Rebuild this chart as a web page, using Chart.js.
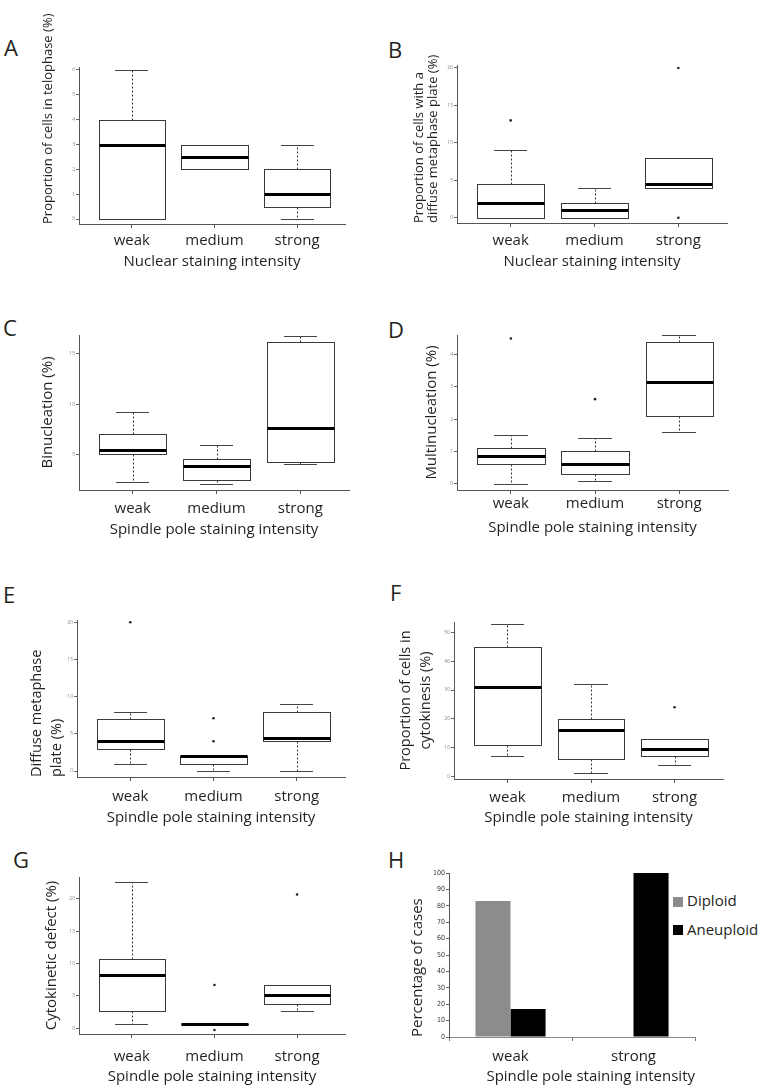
<!DOCTYPE html>
<html>
<head>
<meta charset="utf-8">
<script src="https://cdn.jsdelivr.net/npm/chart.js@4.4.1/dist/chart.umd.min.js"></script>
<style>
  body { margin: 0; background: #fff; }
  #fig { position: relative; width: 763px; height: 1090px; overflow: hidden; font-family: 'Open Sans', sans-serif; color: #231f20; }
  .letter { position: absolute; font-size: 22px; line-height: 22px; }
  .key { position: absolute; width: 10px; height: 10px; }
  .keytxt { position: absolute; font-size: 15px; line-height: 15px; white-space: nowrap; }
</style>
</head>
<body>
<div id="fig">
  <div class="letter" style="left:4px;top:36px">A</div>
  <div class="letter" style="left:388px;top:38px">B</div>
  <div class="letter" style="left:3px;top:316px">C</div>
  <div class="letter" style="left:388px;top:318px">D</div>
  <div class="letter" style="left:3px;top:583px">E</div>
  <div class="letter" style="left:390px;top:581px">F</div>
  <div class="letter" style="left:13px;top:848px">G</div>
  <div class="letter" style="left:388px;top:848px">H</div>
  <div id="legendH"></div>
</div>
<script>
// --- data ---
const categories = ['weak', 'medium', 'strong'];

// A: telophase (nuclear staining)
const telLow = [0, 2, 0];
const telQ1 = [0, 2, 0.5];
const telMed = [3, 2.5, 1];
const telQ3 = [4, 3, 2];
const telHigh = [6, 3, 3];
const telOut = [[], [], []];
const telTicks = [0, 1, 2, 3, 4, 5, 6];

// B: diffuse metaphase plate (nuclear staining)
const dmnLow = [0, 0, 4];
const dmnQ1 = [0, 0, 4];
const dmnMed = [2, 1, 4.5];
const dmnQ3 = [4.5, 2, 8];
const dmnHigh = [9, 4, 8];
const dmnOut = [[13], [], [20, 0]];
const dmnTicks = [0, 5, 10, 15, 20];

// C: binucleation
const binLow = [2.3, 2.1, 4.05];
const binQ1 = [5.1, 2.5, 4.3];
const binMed = [5.5, 3.9, 7.6];
const binQ3 = [7.0, 4.6, 16.2];
const binHigh = [9.2, 6.0, 16.8];
const binOut = [[], [], []];
const binTicks = [5, 10, 15];

// D: multinucleation
const mulLow = [0, 0.07, 1.6];
const mulQ1 = [0.6, 0.3, 2.1];
const mulMed = [0.85, 0.6, 3.15];
const mulQ3 = [1.1, 1.0, 4.4];
const mulHigh = [1.5, 1.4, 4.6];
const mulOut = [[4.5], [2.62], []];
const mulTicks = [0, 1, 2, 3, 4];

// E: diffuse metaphase plate (spindle pole staining)
const dmsLow = [1, 0, 0];
const dmsQ1 = [3, 1, 4];
const dmsMed = [4, 2, 4.5];
const dmsQ3 = [7, 2, 8];
const dmsHigh = [8, 2, 9];
const dmsOut = [[20], [7.1, 4], []];
const dmsTicks = [0, 5, 10, 15, 20];

// F: cytokinesis
const cytLow = [7, 1.2, 4];
const cytQ1 = [11, 6, 7];
const cytMed = [31, 16, 9.5];
const cytQ3 = [45, 20, 13];
const cytHigh = [53, 32, 13];
const cytOut = [[], [], [24]];
const cytTicks = [0, 10, 20, 30, 40, 50];

// G: cytokinetic defect
const cdLow = [0.67, 0.67, 2.7];
const cdQ1 = [2.7, 0.6, 3.7];
const cdMed = [8.2, 0.67, 5.2];
const cdQ3 = [10.65, 0.72, 6.65];
const cdHigh = [22.7, 0.67, 6.65];
const cdOut = [[], [6.7, -0.25], [20.7]];
const cdTicks = [0, 5, 10, 15, 20];

// H: ploidy
const ploidyCategories = ['weak', 'strong'];
const seriesNames = ['Diploid', 'Aneuploid'];
const diploid = [83, 0];
const aneuploid = [17, 100];
const pctTicks = [0, 10, 20, 30, 40, 50, 60, 70, 80, 90, 100];

// --- drawing ---
const INK = '#231f20';
const FONT = "'Open Sans', sans-serif";
const NARROW = "'Liberation Sans Narrow', 'DejaVu Sans Condensed', sans-serif";
Chart.defaults.font.family = FONT;
Chart.defaults.color = INK;

const TICK_LEN = 4;
const X_LINE = 18;

function addCanvas(box) {
    const c = document.createElement('canvas');
    c.width = box.w;
    c.height = box.h;
    c.style.cssText = `position:absolute;left:${box.x}px;top:${box.y}px;width:${box.w}px;height:${box.h}px`;
    document.getElementById('fig').appendChild(c);
    return c;
}

// puts the chart area at the given page coordinates
function layoutFor(p) {
    const yLeft = p.yTitleX - p.yLine / 2;
    return {
        padding: {
            left: yLeft - p.box.x,
            top: p.area.t - p.box.y,
            right: p.box.x + p.box.w - p.area.r,
            bottom: p.box.y + p.box.h - (p.titleY + X_LINE / 2)
        },
        yWidth: p.area.l - yLeft,
        xHeight: p.titleY + X_LINE / 2 - p.area.b,
        xTickPad: p.labelY - p.area.b - TICK_LEN - X_LINE / 2
    };
}

function boxStats(low, q1, med, q3, high) {
    return {
        id: 'boxStats',
        afterDatasetsDraw(chart) {
            const { ctx, scales: { x, y } } = chart;
            const px = v => Math.round(x.getPixelForValue(v));
            const py = v => Math.round(y.getPixelForValue(v)) + 0.5;
            ctx.save();
            med.forEach((m, i) => {
                const c = i + 1;
                const xc = px(c) + 0.5;
                const bl = px(c - 0.4) + 0.5, br = px(c + 0.4) + 0.5;
                const cl = px(c - 0.2), cr = px(c + 0.2);
                ctx.lineWidth = 1;
                ctx.strokeStyle = '#333';
                ctx.setLineDash([2, 2]);
                ctx.beginPath();
                ctx.moveTo(xc, py(q3[i])); ctx.lineTo(xc, py(high[i]));
                ctx.moveTo(xc, py(q1[i])); ctx.lineTo(xc, py(low[i]));
                ctx.stroke();
                ctx.setLineDash([]);
                ctx.strokeStyle = '#444';
                ctx.beginPath();
                ctx.moveTo(cl, py(high[i])); ctx.lineTo(cr, py(high[i]));
                ctx.moveTo(cl, py(low[i])); ctx.lineTo(cr, py(low[i]));
                ctx.stroke();
                const top = py(q3[i]), bot = py(q1[i]);
                ctx.fillStyle = '#fff';
                ctx.fillRect(bl, top, br - bl, bot - top);
                ctx.strokeStyle = '#3a3a3a';
                ctx.strokeRect(bl, top, br - bl, bot - top);
                ctx.lineWidth = 3;
                ctx.strokeStyle = '#000';
                ctx.beginPath();
                ctx.moveTo(bl, py(m)); ctx.lineTo(br, py(m));
                ctx.stroke();
            });
            ctx.restore();
        }
    };
}

function yAxis(p, L, ticks, tickFont) {
    return {
        type: 'linear',
        min: p.yMin,
        max: p.yMax,
        afterBuildTicks: s => { s.ticks = ticks.map(v => ({ value: v })); },
        afterFit: s => { s.width = L.yWidth; },
        ticks: { font: tickFont || { size: 5 }, color: '#8a8a8a', padding: 1 },
        grid: { drawOnChartArea: false, drawTicks: true, tickLength: 3, color: '#666' },
        border: { display: true, color: '#555', width: 1 },
        title: {
            display: true, text: p.yTitle, align: p.yAlign, color: INK, padding: 0,
            font: { size: p.yFont, lineHeight: p.yLine + 'px' }
        }
    };
}

function xTitle(p) {
    return {
        display: true, text: p.xTitle, align: p.xAlign || 'center', color: INK, padding: 0,
        font: { size: 15, lineHeight: X_LINE + 'px' }
    };
}

function boxChart(p, low, q1, med, q3, high, out, ticks) {
    const L = layoutFor(p);
    const points = out.flatMap((vals, i) => vals.map(v => ({ x: i + 1, y: v })));
    return new Chart(addCanvas(p.box), {
        type: 'scatter',
        data: {
            datasets: [{ data: points, pointRadius: 1.3, pointBackgroundColor: '#222', pointBorderWidth: 0 }]
        },
        options: {
            responsive: false,
            animation: false,
            events: [],
            layout: { padding: L.padding },
            plugins: { legend: { display: false }, tooltip: { enabled: false } },
            scales: {
                x: {
                    type: 'linear',
                    min: 0.36,
                    max: 3.58,
                    afterBuildTicks: s => { s.ticks = categories.map((c, i) => ({ value: i + 1 })); },
                    afterFit: s => { s.height = L.xHeight; },
                    ticks: { callback: v => categories[v - 1], font: { size: 15 }, color: INK, padding: L.xTickPad, maxRotation: 0, autoSkip: false },
                    grid: { drawOnChartArea: false, drawTicks: true, tickLength: TICK_LEN, color: '#555' },
                    border: { display: true, color: '#555', width: 1 },
                    title: xTitle(p)
                },
                y: yAxis(p, L, ticks)
            }
        },
        plugins: [boxStats(low, q1, med, q3, high)]
    });
}

const NUC = 'Nuclear staining intensity';
const SPI = 'Spindle pole staining intensity';

boxChart({
    box: { x: 0, y: 0, w: 380, h: 280 }, area: { l: 79, t: 67, r: 345, b: 224 },
    yTitleX: 48, yFont: 13, yLine: 15, yAlign: 'start', labelY: 241, titleY: 262,
    yMin: -0.2, yMax: 6.12, yTitle: 'Proportion of cells in telophase (%)', xTitle: NUC
}, telLow, telQ1, telMed, telQ3, telHigh, telOut, telTicks);

boxChart({
    box: { x: 380, y: 0, w: 383, h: 280 }, area: { l: 457, t: 65, r: 727, b: 223 },
    yTitleX: 419, yFont: 13, yLine: 14, yAlign: 'start', labelY: 241, titleY: 262,
    yMin: -0.71, yMax: 20.4, yTitle: ['Proportion of cells with a', 'diffuse metaphase plate (%)'], xTitle: NUC
}, dmnLow, dmnQ1, dmnMed, dmnQ3, dmnHigh, dmnOut, dmnTicks);

boxChart({
    box: { x: 0, y: 290, w: 380, h: 260 }, area: { l: 79, t: 335, r: 349, b: 490 },
    yTitleX: 48, yFont: 15, yLine: 18, yAlign: 'center', labelY: 509, titleY: 530,
    yMin: 1.5, yMax: 16.85, yTitle: 'Binucleation (%)', xTitle: SPI
}, binLow, binQ1, binMed, binQ3, binHigh, binOut, binTicks);

boxChart({
    box: { x: 380, y: 290, w: 383, h: 260 }, area: { l: 457, t: 335, r: 728, b: 490 },
    yTitleX: 432, yFont: 15, yLine: 18, yAlign: 'center', labelY: 504, titleY: 528,
    yMin: -0.2, yMax: 4.61, yTitle: 'Multinucleation (%)', xTitle: SPI
}, mulLow, mulQ1, mulMed, mulQ3, mulHigh, mulOut, mulTicks);

boxChart({
    box: { x: 0, y: 560, w: 380, h: 270 }, area: { l: 77, t: 620, r: 345, b: 777 },
    yTitleX: 36.5, yFont: 14.5, yLine: 20, yAlign: 'start', labelY: 797, titleY: 818,
    yMin: -0.8, yMax: 20.3, yTitle: ['Diffuse metaphase', 'plate (%)'], xTitle: SPI
}, dmsLow, dmsQ1, dmsMed, dmsQ3, dmsHigh, dmsOut, dmsTicks);

boxChart({
    box: { x: 380, y: 560, w: 383, h: 270 }, area: { l: 454, t: 622, r: 723, b: 779 },
    yTitleX: 406, yFont: 14.5, yLine: 20, yAlign: 'center', labelY: 798, titleY: 818,
    yMin: -1, yMax: 53.7, yTitle: ['Proportion of cells in', 'cytokinesis (%)'], xTitle: SPI
}, cytLow, cytQ1, cytMed, cytQ3, cytHigh, cytOut, cytTicks);

boxChart({
    box: { x: 0, y: 830, w: 380, h: 260 }, area: { l: 79, t: 877, r: 345, b: 1034 },
    yTitleX: 52, yFont: 15, yLine: 18, yAlign: 'center', labelY: 1057, titleY: 1077,
    yMin: -0.88, yMax: 23.4, yTitle: 'Cytokinetic defect (%)', xTitle: SPI
}, cdLow, cdQ1, cdMed, cdQ3, cdHigh, cdOut, cdTicks);

// H: grouped bars
const hp = {
    box: { x: 380, y: 830, w: 383, h: 260 }, area: { l: 449, t: 873, r: 695, b: 1037 },
    yTitleX: 418, yFont: 15, yLine: 18, yAlign: 'start', labelY: 1057, titleY: 1077,
    yMin: 0, yMax: 100, yTitle: 'Percentage of cases', xTitle: SPI, xAlign: 'end'
};
const hL = layoutFor(hp);
const barColors = ['#8c8c8c', '#000000'];
new Chart(addCanvas(hp.box), {
    type: 'bar',
    data: {
        labels: ploidyCategories,
        datasets: [
            { label: seriesNames[0], data: diploid, backgroundColor: barColors[0], barPercentage: 1, categoryPercentage: 0.57 },
            { label: seriesNames[1], data: aneuploid, backgroundColor: barColors[1], barPercentage: 1, categoryPercentage: 0.57 }
        ]
    },
    options: {
        responsive: false,
        animation: false,
        events: [],
        layout: { padding: hL.padding },
        plugins: { legend: { display: false }, tooltip: { enabled: false } },
        scales: {
            x: {
                afterFit: s => { s.height = hL.xHeight; },
                ticks: { font: { size: 15 }, color: INK, padding: hL.xTickPad, maxRotation: 0 },
                grid: { drawOnChartArea: false, drawTicks: true, tickLength: TICK_LEN, color: '#777' },
                border: { display: true, color: '#888', width: 1 },
                title: xTitle(hp)
            },
            y: Object.assign(yAxis(hp, hL, pctTicks, { family: NARROW, size: 7 }), {
                ticks: { font: { family: NARROW, size: 7 }, color: '#333', padding: 1 }
            })
        }
    }
});

// legend for H
const legendPos = [{ key: 897, txt: 893 }, { key: 925, txt: 922 }];
const legendBox = document.getElementById('legendH');
seriesNames.forEach((name, i) => {
    const k = document.createElement('div');
    k.className = 'key';
    k.style.cssText = `left:673px;top:${legendPos[i].key}px;background:${barColors[i]}`;
    const t = document.createElement('div');
    t.className = 'keytxt';
    t.style.cssText = `left:687px;top:${legendPos[i].txt}px`;
    t.textContent = name;
    legendBox.appendChild(k);
    legendBox.appendChild(t);
});
</script>
</body>
</html>
